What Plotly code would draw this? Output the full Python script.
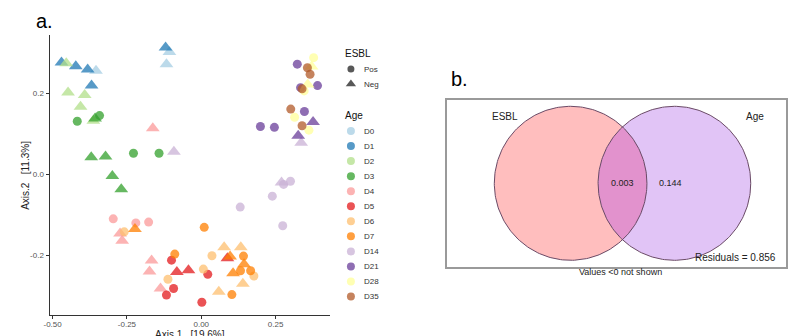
import numpy as np
import plotly.graph_objects as go

# ---------------- data ----------------
ages = ["D0", "D1", "D2", "D3", "D4", "D5", "D6", "D7", "D14", "D21", "D28", "D35"]
age_colors = ["#A6CEE3", "#1F78B4", "#B2DF8A", "#33A02C", "#FB9A99", "#E31A1C",
              "#FDBF6F", "#FF7F00", "#CAB2D6", "#6A3D9A", "#FFFF99", "#B15928"]
esbl_levels = ["Pos", "Neg"]

sample_age = (["D0"] * 3 + ["D1"] * 5 + ["D2"] * 5 + ["D3"] * 9 + ["D4"] * 9 +
              ["D5"] * 8 + ["D6"] * 9 + ["D7"] * 10 + ["D14"] * 8 + ["D21"] * 8 +
              ["D28"] * 6 + ["D35"] * 5)
sample_esbl = (["Neg"] * 3 + ["Neg"] * 5 + ["Neg"] * 5 +
               ["Pos"] * 4 + ["Neg"] * 5 +
               ["Pos"] * 3 + ["Neg"] * 6 +
               ["Pos"] * 5 + ["Neg"] * 3 +
               ["Pos"] * 5 + ["Neg"] * 4 +
               ["Pos"] * 6 + ["Neg"] * 4 +
               ["Pos"] * 5 + ["Neg"] * 3 +
               ["Pos"] * 6 + ["Neg"] * 2 +
               ["Pos"] * 4 + ["Neg"] * 2 +
               ["Pos"] * 5)
axis1 = [-0.107, -0.117, -0.354,
         -0.120, -0.470, -0.422, -0.382, -0.369,
         -0.454, -0.448, -0.392, -0.406, -0.363,
         -0.417, -0.342, -0.228, -0.142, -0.357, -0.370, -0.322, -0.299, -0.269,
         -0.296, -0.220, -0.177, -0.163, -0.273, -0.266, -0.167, -0.174, -0.137,
         -0.100, -0.093, -0.117, 0.002, 0.022, -0.082, -0.043, 0.088,
         -0.259, -0.112, 0.007, 0.036, 0.177, 0.077, 0.133, 0.140, 0.059,
         0.010, -0.089, 0.142, 0.132, 0.166, 0.103, -0.223, 0.097, 0.144, 0.107,
         0.131, 0.239, 0.274, 0.277, 0.300, -0.092, 0.270, 0.336,
         0.323, 0.334, 0.391, 0.347, 0.199, 0.246, 0.376, 0.326,
         0.378, 0.346, 0.314, 0.362, 0.371, 0.358,
         0.357, 0.366, 0.339, 0.301, 0.339]
axis2 = [0.302, 0.272, 0.256,
         0.313, 0.276, 0.267, 0.259, 0.219,
         0.274, 0.202, 0.196, 0.167, 0.132,
         0.131, 0.145, 0.052, 0.052, 0.138, 0.042, 0.044, -0.004, -0.037,
         -0.110, -0.120, -0.118, 0.114, -0.146, -0.164, -0.213, -0.240, -0.282,
         -0.212, -0.282, -0.298, -0.316, -0.247, -0.241, -0.237, -0.207,
         -0.142, -0.259, -0.234, -0.201, -0.251, -0.180, -0.180, -0.270, -0.290,
         -0.131, -0.197, -0.202, -0.238, -0.238, -0.297, -0.135, -0.203, -0.222, -0.244,
         -0.081, -0.054, -0.127, -0.025, -0.017, 0.056, -0.020, 0.078,
         0.272, 0.214, 0.219, 0.155, 0.118, 0.116, 0.129, 0.095,
         0.288, 0.206, 0.141, 0.109, 0.266, 0.222,
         0.263, 0.247, 0.211, 0.161, 0.120]
x_tickvals = [-0.50, -0.25, 0.00, 0.25]
x_ticktext = ["-0.50", "-0.25", "0.00", "0.25"]
y_tickvals = [-0.2, 0.0, 0.2]
y_ticktext = ["-0.2", "0.0", "0.2"]
x_title = "Axis.1\u00a0\u00a0\u00a0[19.6%]"
y_title = "Axis.2\u00a0\u00a0\u00a0[11.3%]"

venn_sets = ["ESBL", "Age"]
venn_overlap = 0.003
venn_age_only = 0.144
venn_residuals = 0.856
venn_note = "Values <0 not shown"

# ---------------- figure ----------------
W, H = 788, 336
FONT = "Liberation Sans, Arial, sans-serif"
fig = go.Figure()

color_map = dict(zip(ages, age_colors))
symbol_map = {"Pos": "circle", "Neg": "triangle-up"}
size_map = {"Pos": 9, "Neg": 12}

fig.add_trace(go.Scatter(
    x=axis1, y=axis2, mode="markers", showlegend=False, hoverinfo="skip",
    marker=dict(color=[color_map[a] for a in sample_age],
                symbol=[symbol_map[e] for e in sample_esbl],
                size=[size_map[e] for e in sample_esbl],
                opacity=0.75, line=dict(width=0)),
    xaxis="x", yaxis="y"))

# ---- manual legend (pixel-like axis x3/y3 over the legend strip only) ----
LX0, LX1 = 332, 430
leg_x = 348
esbl_rows = [69 + 15 * i for i in range(len(esbl_levels))]
age_rows = [131 + 15.05 * i for i in range(len(ages))]
fig.add_trace(go.Scatter(
    x=[leg_x] * len(esbl_levels), y=esbl_rows, mode="markers", showlegend=False,
    hoverinfo="skip", xaxis="x3", yaxis="y3",
    marker=dict(color="#111111", symbol=[symbol_map[e] for e in esbl_levels],
                size=[7, 9], line=dict(width=0))))
fig.add_trace(go.Scatter(
    x=[leg_x] * len(ages), y=age_rows, mode="markers", showlegend=False,
    hoverinfo="skip", xaxis="x3", yaxis="y3",
    marker=dict(color=age_colors, symbol="circle", size=8, opacity=0.75,
                line=dict(width=0))))

annotations = []
annotations.append(dict(x=340, y=53, xref="x3", yref="y3", text="ESBL", showarrow=False,
                        xanchor="left", yanchor="middle", font=dict(size=10, color="#111")))
annotations.append(dict(x=340, y=115, xref="x3", yref="y3", text="Age", showarrow=False,
                        xanchor="left", yanchor="middle", font=dict(size=10, color="#111")))
for lab, yy in zip(esbl_levels, esbl_rows):
    annotations.append(dict(x=359, y=yy, xref="x3", yref="y3", text=lab, showarrow=False,
                            xanchor="left", yanchor="middle", font=dict(size=8, color="#333")))
for lab, yy in zip(ages, age_rows):
    annotations.append(dict(x=359, y=yy, xref="x3", yref="y3", text=lab, showarrow=False,
                            xanchor="left", yanchor="middle", font=dict(size=8, color="#333")))

# panel letters and axis titles
annotations.append(dict(x=28 / W, y=1 - 21 / H, xref="paper", yref="paper", text="a.",
                        showarrow=False, xanchor="left", yanchor="middle",
                        font=dict(size=20, color="#000")))
annotations.append(dict(x=447 / W, y=1 - 79 / H, xref="paper", yref="paper", text="b.",
                        showarrow=False, xanchor="left", yanchor="middle",
                        font=dict(size=20, color="#000")))
annotations.append(dict(x=186 / W, y=1 - 334 / H, xref="paper", yref="paper", text=x_title,
                        showarrow=False, xanchor="center", yanchor="middle",
                        font=dict(size=10, color="#222")))
annotations.append(dict(x=19 / W, y=1 - 175 / H, xref="paper", yref="paper", text=y_title,
                        showarrow=False, xanchor="center", yanchor="middle", textangle=-90,
                        font=dict(size=10, color="#222")))

# ---- Venn (Euler) diagram on axes x2/y2 ----
r = 1.0
d = 1.36
t = np.linspace(0, 2 * np.pi, 241)
cx = [0.0, d]
fills = ["rgb(255,190,190)", "rgb(225,196,246)"]
for c, f in zip(cx, fills):
    fig.add_trace(go.Scatter(x=c + r * np.cos(t), y=r * np.sin(t), mode="lines",
                             fill="toself", fillcolor=f, line=dict(width=0),
                             showlegend=False, hoverinfo="skip", xaxis="x2", yaxis="y2"))
th = np.arccos(d / (2 * r))
a1 = np.linspace(-th, th, 80)
a2 = np.linspace(np.pi - th, np.pi + th, 80)
lx = np.concatenate([r * np.cos(a1), d + r * np.cos(a2)])
ly = np.concatenate([r * np.sin(a1), r * np.sin(a2)])
fig.add_trace(go.Scatter(x=lx, y=ly, mode="lines", fill="toself",
                         fillcolor="rgb(226,146,205)", line=dict(width=0),
                         showlegend=False, hoverinfo="skip", xaxis="x2", yaxis="y2"))
for c in cx:
    fig.add_trace(go.Scatter(x=c + r * np.cos(t), y=r * np.sin(t), mode="lines",
                             line=dict(width=1, color="#6a4a66"),
                             showlegend=False, hoverinfo="skip", xaxis="x2", yaxis="y2"))

annotations.append(dict(x=-0.86, y=0.87, xref="x2", yref="y2", text=venn_sets[0],
                        showarrow=False, font=dict(size=10, color="#222")))
annotations.append(dict(x=2.41, y=0.87, xref="x2", yref="y2", text=venn_sets[1],
                        showarrow=False, font=dict(size=10, color="#222")))
annotations.append(dict(x=d / 2, y=0.0, xref="x2", yref="y2", text=f"{venn_overlap:.3f}",
                        showarrow=False, font=dict(size=9, color="#222")))
annotations.append(dict(x=d - 0.05, y=0.0, xref="x2", yref="y2", text=f"{venn_age_only:.3f}",
                        showarrow=False, font=dict(size=9, color="#222")))
annotations.append(dict(x=2.72, y=-0.97, xref="x2", yref="y2",
                        text=f"Residuals = {venn_residuals:.3f}", showarrow=False,
                        xanchor="right", font=dict(size=10, color="#222")))
annotations.append(dict(x=620 / W, y=1 - 272 / H, xref="paper", yref="paper", text=venn_note,
                        showarrow=False, xanchor="center", yanchor="middle",
                        font=dict(size=9, color="#222")))

axis_common = dict(showgrid=False, zeroline=False, showline=True, linecolor="#333333",
                   linewidth=1.2, ticks="outside", ticklen=3, tickcolor="#333333",
                   tickwidth=1, tickfont=dict(size=8, color="#555555"))

fig.update_layout(
    width=W, height=H, margin=dict(l=0, r=0, t=0, b=0, pad=0),
    paper_bgcolor="white", plot_bgcolor="rgba(0,0,0,0)",
    font=dict(family=FONT),
    showlegend=False,
    xaxis=dict(domain=[44 / W, 327 / W], range=[-0.51, 0.4333], tickvals=x_tickvals,
               ticktext=x_ticktext, anchor="y", ticklabelstandoff=-2, **axis_common),
    yaxis=dict(domain=[1 - 315 / H, 1 - 35 / H], range=[-0.3474, 0.344],
               tickvals=y_tickvals, ticktext=y_ticktext, anchor="x", **axis_common),
    xaxis2=dict(domain=[445 / W, 787 / W], range=[-1.619, 2.822], anchor="y2",
                showgrid=False, zeroline=False, showticklabels=False, ticks="",
                showline=True, mirror=True, linecolor="#9a9a9a", linewidth=1.5),
    yaxis2=dict(domain=[1 - 267 / H, 1 - 100 / H], range=[-1.087, 1.082], anchor="x2",
                showgrid=False, zeroline=False, showticklabels=False, ticks="",
                showline=True, mirror=True, linecolor="#9a9a9a", linewidth=1.5),
    xaxis3=dict(domain=[LX0 / W, LX1 / W], range=[LX0, LX1], anchor="y3", visible=False),
    yaxis3=dict(domain=[0, 1], range=[H, 0], anchor="x3", visible=False),
    annotations=annotations,
)

fig.write_html("out.html", config={"displayModeBar": False},
               post_script="document.body.style.margin='0';")
